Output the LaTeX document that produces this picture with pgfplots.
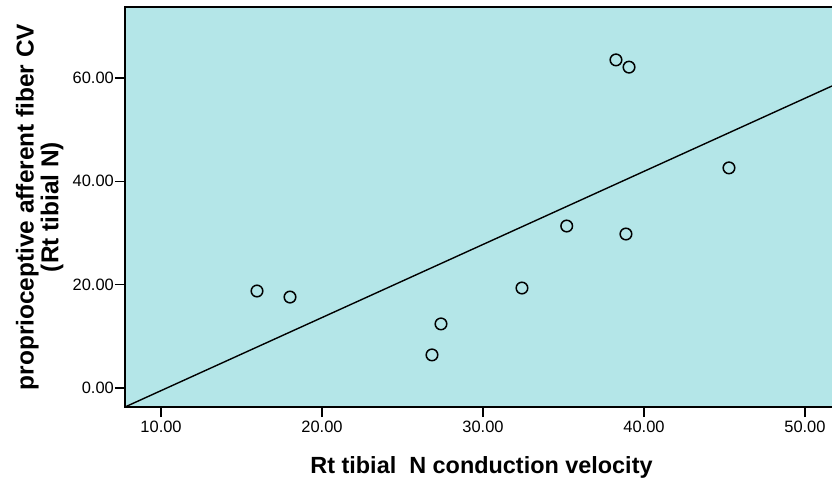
\documentclass[border=0pt]{standalone}
\usepackage{pgfplots}
\pgfplotsset{compat=1.18}
\usepackage{fontspec}
\setmainfont{Liberation Sans}
\definecolor{spssbg}{RGB}{180,230,232}

\pgfplotstableread{
x y
15.96 18.77
18.01 17.60
27.39 12.40
26.83 6.40
32.42 19.35
35.20 31.35
38.26 63.50
39.07 62.10
38.88 29.80
45.28 42.60
}\cvdata

\begin{document}
\begin{tikzpicture}
\begin{axis}[
  scale only axis, width=707bp, height=400bp,
  xmin=7.76, xmax=51.68, ymin=-3.68, ymax=73.74,
  axis background/.style={fill=spssbg},
  axis line style={draw=none},
  xtick={10,20,30,40,50}, ytick={0,20,40,60},
  xtick pos=left, ytick pos=left,
  tick align=outside, major tick length=10bp,
  tick style={black, line width=1.6bp},
  /pgf/number format/assume math mode=true,
  /pgf/number format/.cd, fixed, fixed zerofill, precision=2, /pgfplots/.cd,
  tick label style={font=\fontsize{16.5}{19}\selectfont},
  yticklabel style={inner xsep=1bp},
  xlabel={Rt tibial \ N conduction velocity},
  ylabel={proprioceptive afferent fiber CV\\(Rt tibial N)},
  xlabel style={font=\fontsize{23.5}{24}\selectfont\bfseries,
    at={(axis description cs:0.5,0)}, anchor=north, yshift=-46bp, xshift=3bp},
  ylabel style={font=\fontsize{24.5}{25}\selectfont\bfseries,
    at={(axis description cs:-0.082,0.5)}, anchor=south, align=center},
  clip=false,
]
\addplot[only marks, mark=o, mark size=5.8bp, mark options={line width=1.5bp, black}] table {\cvdata};
\addplot[black, line width=1.4bp] coordinates {(7.76,-3.68) (51.68,58.45)};
\draw[black, line width=1.6bp] (rel axis cs:1,1) -- (rel axis cs:0,1) -- (rel axis cs:0,0) -- (rel axis cs:1,0);
\end{axis}
\pgfresetboundingbox
\path ([xshift=-125bp,yshift=-76bp]current axis.south west) rectangle ([yshift=7bp]current axis.north east);
\end{tikzpicture}
\end{document}
